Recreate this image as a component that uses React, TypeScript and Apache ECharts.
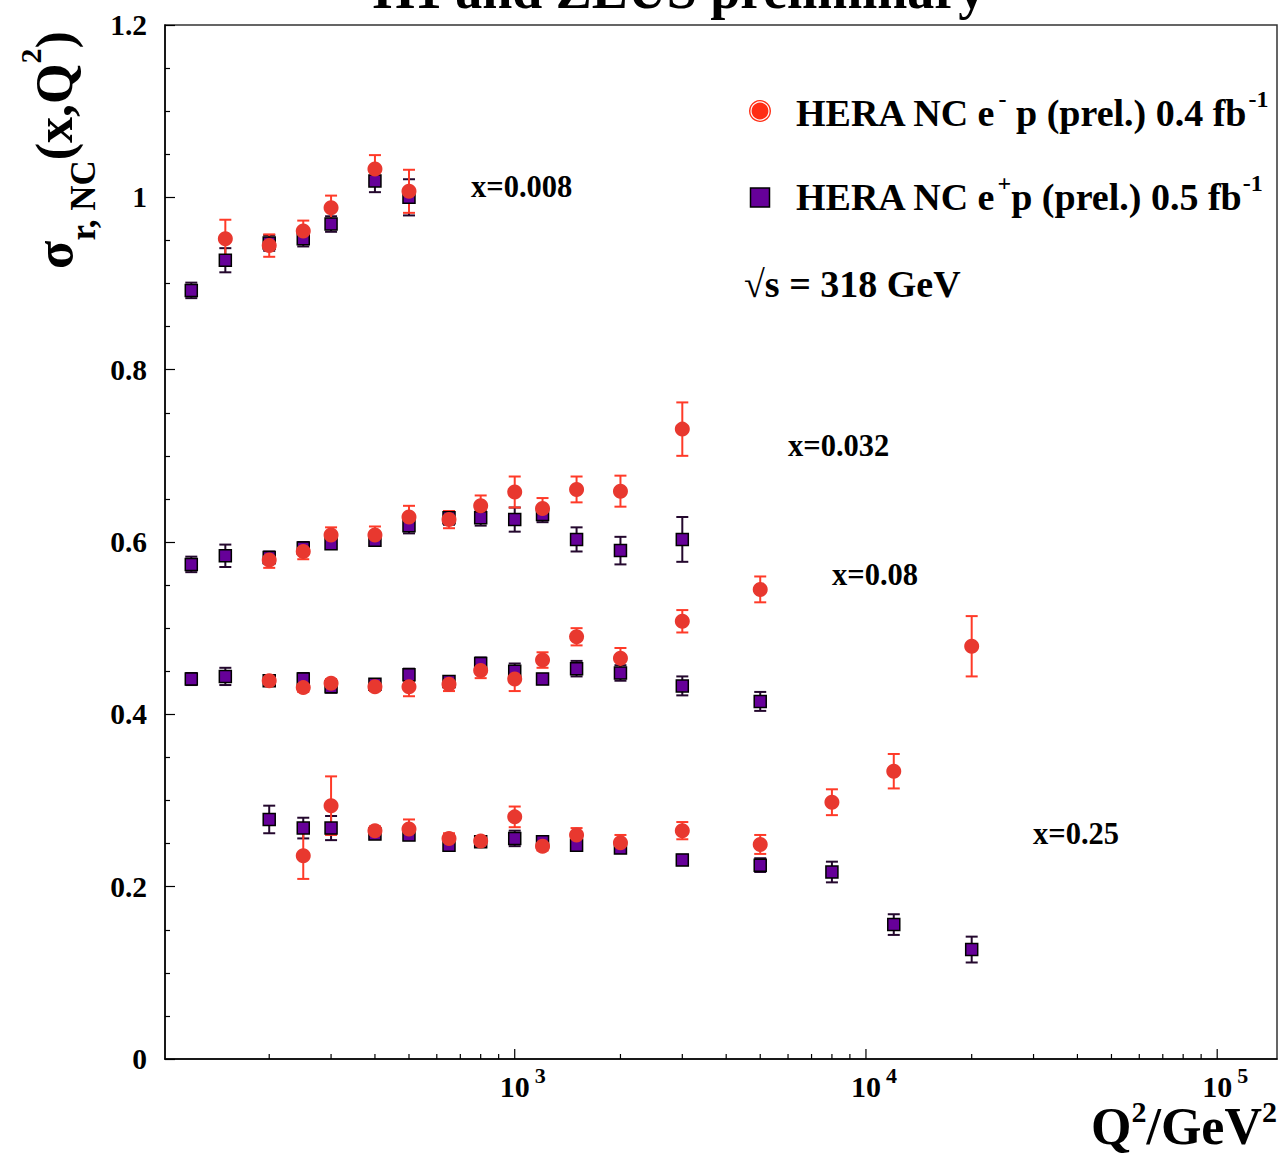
import React, { useEffect, useRef } from 'react';
import * as echarts from 'echarts';

const FONT = '"Liberation Serif", "Times New Roman", serif';

// Axis ranges / ticks
const Q2_MIN = 101;
const Q2_MAX = 148000;
const X_MAJOR_TICKS = [1000, 10000, 100000];
const X_MINOR_FACTORS = [2, 3, 4, 5, 6, 7, 8, 9];
const X_MINOR_DECADES = [100, 1000, 10000];
const Y_MIN = 0;
const Y_MAX = 1.2;
const Y_INTERVAL = 0.2;

// Data rows: [Q^2 (GeV^2), sigma_r,NC, error]
const eMinus_x0008 = [
  [150, 0.952, 0.022], [200, 0.944, 0.013], [250, 0.961, 0.012], [300, 0.988, 0.014],
  [400, 1.033, 0.016], [500, 1.007, 0.025],
];
const ePlus_x0008 = [
  [120, 0.892, 0.009], [150, 0.927, 0.014], [200, 0.947, 0.009], [250, 0.952, 0.009],
  [300, 0.969, 0.009], [400, 1.019, 0.013], [500, 1.0, 0.021],
];
const eMinus_x0032 = [
  [200, 0.579, 0.009], [250, 0.589, 0.009], [300, 0.608, 0.009], [400, 0.608, 0.01],
  [500, 0.629, 0.013], [650, 0.626, 0.01], [800, 0.642, 0.012], [1000, 0.658, 0.018],
  [1200, 0.639, 0.012], [1500, 0.661, 0.015], [2000, 0.659, 0.018], [3000, 0.731, 0.031],
];
const ePlus_x0032 = [
  [120, 0.574, 0.009], [150, 0.584, 0.013], [200, 0.582, 0.007], [250, 0.593, 0.007],
  [300, 0.598, 0.006], [400, 0.602, 0.006], [500, 0.619, 0.009], [650, 0.628, 0.008],
  [800, 0.628, 0.009], [1000, 0.626, 0.014], [1200, 0.632, 0.009], [1500, 0.603, 0.014],
  [2000, 0.59, 0.016], [3000, 0.603, 0.026],
];
const eMinus_x008 = [
  [200, 0.439, 0.005], [250, 0.431, 0.005], [300, 0.436, 0.005], [400, 0.432, 0.005],
  [500, 0.432, 0.011], [650, 0.435, 0.008], [800, 0.451, 0.009], [1000, 0.441, 0.014],
  [1200, 0.463, 0.009], [1500, 0.49, 0.01], [2000, 0.465, 0.012], [3000, 0.508, 0.013],
  [5000, 0.545, 0.015], [20000, 0.479, 0.035],
];
const ePlus_x008 = [
  [120, 0.441, 0.007], [150, 0.444, 0.01], [200, 0.439, 0.006], [250, 0.441, 0.007],
  [300, 0.432, 0.007], [400, 0.435, 0.006], [500, 0.446, 0.007], [650, 0.438, 0.006],
  [800, 0.459, 0.007], [1000, 0.45, 0.009], [1200, 0.441, 0.006], [1500, 0.453, 0.009],
  [2000, 0.448, 0.009], [3000, 0.433, 0.011], [5000, 0.415, 0.011],
];
const eMinus_x025 = [
  [250, 0.236, 0.027], [300, 0.294, 0.034], [400, 0.265, 0.005], [500, 0.267, 0.011],
  [650, 0.256, 0.006], [800, 0.253, 0.005], [1000, 0.281, 0.012], [1200, 0.247, 0.005],
  [1500, 0.26, 0.008], [2000, 0.251, 0.009], [3000, 0.265, 0.01], [5000, 0.249, 0.011],
  [8000, 0.298, 0.015], [12000, 0.334, 0.02],
];
const ePlus_x025 = [
  [200, 0.278, 0.016], [250, 0.268, 0.012], [300, 0.268, 0.014], [400, 0.261, 0.005],
  [500, 0.26, 0.006], [650, 0.248, 0.005], [800, 0.252, 0.005], [1000, 0.256, 0.009],
  [1200, 0.252, 0.005], [1500, 0.248, 0.006], [2000, 0.245, 0.006], [3000, 0.231, 0.006],
  [5000, 0.225, 0.008], [8000, 0.217, 0.012], [12000, 0.156, 0.012], [20000, 0.127, 0.015],
];

const BIN_LABELS = ['x=0.008', 'x=0.032', 'x=0.08', 'x=0.25'];
const LEGEND_MINUS = 'HERA NC e⁻ p (prel.) 0.4 fb⁻¹';
const LEGEND_PLUS = 'HERA NC e⁺p (prel.) 0.5 fb⁻¹';

const RED = '#e8382f';
const RED_ERR = '#ff3a28';
const PURPLE = '#660099';
const PURPLE_ERR = '#24082e';

function errRender(color: string) {
  return (params: any, api: any) => {
    const q = api.value(0);
    const v = api.value(1);
    const e = api.value(2);
    const top = api.coord([q, v + e]);
    const bot = api.coord([q, v - e]);
    const hw = 6;
    const style = { stroke: color, lineWidth: 2 };
    return {
      type: 'group',
      children: [
        { type: 'line', shape: { x1: top[0], y1: top[1], x2: bot[0], y2: bot[1] }, style },
        { type: 'line', shape: { x1: top[0] - hw, y1: top[1], x2: top[0] + hw, y2: top[1] }, style },
        { type: 'line', shape: { x1: bot[0] - hw, y1: bot[1], x2: bot[0] + hw, y2: bot[1] }, style },
      ],
    };
  };
}

export default function App() {
  const ref = useRef<HTMLDivElement>(null);

  useEffect(() => {
    const chart = echarts.init(ref.current!, null, { renderer: 'svg' });

    const eMinusAll = [...eMinus_x0008, ...eMinus_x0032, ...eMinus_x008, ...eMinus_x025];
    const ePlusAll = [...ePlus_x0008, ...ePlus_x0032, ...ePlus_x008, ...ePlus_x025];

    const xTicks: number[][] = [];
    X_MINOR_DECADES.forEach((d) => X_MINOR_FACTORS.forEach((f) => xTicks.push([d * f, 0])));
    X_MAJOR_TICKS.forEach((t) => xTicks.push([t, 1]));

    const mainText = { fontFamily: FONT, fontWeight: 'bold' as const, fill: '#000' };

    const option: any = {
      animation: false,
      backgroundColor: '#fff',
      grid: {
        left: 165, right: 4, top: 25, bottom: 99,
        show: true, borderColor: '#333', borderWidth: 1.5, backgroundColor: 'transparent',
      },
      xAxis: {
        type: 'log',
        logBase: 10,
        min: Q2_MIN,
        max: Q2_MAX,
        axisLine: { show: true, lineStyle: { color: '#000', width: 1.5 } },
        axisTick: { show: false },
        splitLine: { show: false },
        axisLabel: {
          margin: 5.5,
          formatter: (v: number) => {
            const e = Math.round(Math.log10(v));
            const p = Math.pow(10, e);
            if (Math.abs(v / p - 1) < 1e-6 && X_MAJOR_TICKS.indexOf(p) >= 0) {
              return `{pad| }{b|10}{sup|${e}}`;
            }
            return '';
          },
          rich: {
            pad: { width: 16, fontSize: 10, lineHeight: 10 },
            b: { fontFamily: FONT, fontWeight: 'bold', fontSize: 30, lineHeight: 30, color: '#000', padding: [14, 0, 0, 0] },
            sup: { fontFamily: FONT, fontWeight: 'bold', fontSize: 22, lineHeight: 22, color: '#000', verticalAlign: 'top', padding: [0, 0, 0, 5] },
          },
        },
      },
      yAxis: {
        type: 'value',
        min: Y_MIN,
        max: Y_MAX,
        interval: Y_INTERVAL,
        axisLine: { show: true, lineStyle: { color: '#000', width: 1.5 } },
        axisTick: { show: true, inside: true, length: 10, lineStyle: { color: '#000', width: 1.2 } },
        minorTick: { show: true, splitNumber: 4, length: 5, lineStyle: { color: '#000', width: 1.2 } },
        splitLine: { show: false },
        minorSplitLine: { show: false },
        axisLabel: {
          margin: 18,
          fontFamily: FONT,
          fontWeight: 'bold',
          fontSize: 29.5,
          color: '#000',
        },
      },
      series: [
        {
          type: 'custom',
          name: 'xticks',
          silent: true,
          data: xTicks,
          encode: { x: 0, y: 1 },
          renderItem: (params: any, api: any) => {
            const v = api.value(0);
            const major = api.value(1);
            const p = api.coord([v, 0]);
            const len = major ? 10 : 5;
            return {
              type: 'line',
              shape: { x1: p[0], y1: p[1], x2: p[0], y2: p[1] - len },
              style: { stroke: '#000', lineWidth: 1.2 },
            };
          },
        },
        {
          type: 'custom',
          name: 'ePlusErr',
          silent: true,
          data: ePlusAll,
          encode: { x: 0, y: 1 },
          renderItem: errRender(PURPLE_ERR),
        },
        {
          type: 'scatter',
          name: LEGEND_PLUS,
          data: ePlusAll.map((r) => [r[0], r[1]]),
          symbol: 'rect',
          symbolSize: 12,
          itemStyle: { color: PURPLE, borderColor: '#000', borderWidth: 1.5, opacity: 1 },
        },
        {
          type: 'custom',
          name: 'eMinusErr',
          silent: true,
          data: eMinusAll,
          encode: { x: 0, y: 1 },
          renderItem: errRender(RED_ERR),
        },
        {
          type: 'scatter',
          name: LEGEND_MINUS,
          data: eMinusAll.map((r) => [r[0], r[1]]),
          symbol: 'circle',
          symbolSize: 15,
          itemStyle: { color: RED, opacity: 1 },
        },
      ],
      graphic: [
        {
          type: 'text', silent: true, x: 679, y: -10,
          style: { ...mainText, text: 'H1 and ZEUS preliminary', fontSize: 54, align: 'center', verticalAlign: 'middle' },
        },
        // y-axis title (rotated)
        {
          type: 'text', silent: true, x: 54.5, y: 150, rotation: Math.PI / 2,
          style: {
            ...mainText,
            text: '{m|σ}{sub|r, NC}{m|(x,Q}{sup|2}{m|)}',
            fontSize: 52,
            align: 'center',
            verticalAlign: 'middle',
            rich: {
              m: { ...mainText, fontSize: 52 },
              sub: { ...mainText, fontSize: 35, padding: [57, 0, 0, 0] },
              sup: { ...mainText, fontSize: 30, padding: [0, 0, 49, 0] },
            },
          },
        },
        // x-axis title
        {
          type: 'text', silent: true, x: 1277, y: 1096,
          style: {
            ...mainText,
            text: '{m|Q}{sup|2}{m|/GeV}{sup|2}',
            fontSize: 52,
            align: 'right',
            verticalAlign: 'top',
            rich: {
              m: { ...mainText, fontSize: 52, lineHeight: 52, padding: [9.5, 0, 0, 0] },
              sup: { ...mainText, fontSize: 30, lineHeight: 22, verticalAlign: 'top' },
            },
          },
        },
        // legend
        { type: 'circle', silent: true, shape: { cx: 760, cy: 111, r: 11 }, style: { fill: '#ff2d14' } },
        { type: 'circle', silent: true, shape: { cx: 760, cy: 111, r: 9 }, style: { fill: 'none', stroke: '#fff', lineWidth: 1.2 } },
        {
          type: 'text', silent: true, x: 796, y: 112.5,
          style: {
            ...mainText,
            text: '{m|HERA NC e}{sup|-}{m| p (prel.) 0.4 fb}{sup|-1}',
            fontSize: 38, align: 'left', verticalAlign: 'middle',
            rich: {
              m: { ...mainText, fontSize: 38 },
              sup: { ...mainText, fontSize: 24, padding: [0, 0, 28, 2] },
            },
          },
        },
        { type: 'rect', silent: true, shape: { x: 750.5, y: 188, width: 19, height: 19 }, style: { fill: PURPLE, stroke: '#000', lineWidth: 1.5 } },
        {
          type: 'text', silent: true, x: 796, y: 197,
          style: {
            ...mainText,
            text: '{m|HERA NC e}{sup|+}{m|p (prel.) 0.5 fb}{sup|-1}',
            fontSize: 38, align: 'left', verticalAlign: 'middle',
            rich: {
              m: { ...mainText, fontSize: 38 },
              sup: { ...mainText, fontSize: 24, padding: [0, 0, 28, 1] },
            },
          },
        },
        {
          type: 'text', silent: true, x: 744, y: 284,
          style: { ...mainText, text: '√s = 318 GeV', fontSize: 38, align: 'left', verticalAlign: 'middle' },
        },
        // bin labels
        { type: 'text', silent: true, x: 471, y: 187, style: { ...mainText, text: BIN_LABELS[0], fontSize: 30.5, align: 'left', verticalAlign: 'middle' } },
        { type: 'text', silent: true, x: 788, y: 446, style: { ...mainText, text: BIN_LABELS[1], fontSize: 30.5, align: 'left', verticalAlign: 'middle' } },
        { type: 'text', silent: true, x: 832, y: 575, style: { ...mainText, text: BIN_LABELS[2], fontSize: 30.5, align: 'left', verticalAlign: 'middle' } },
        { type: 'text', silent: true, x: 1033, y: 834, style: { ...mainText, text: BIN_LABELS[3], fontSize: 30.5, align: 'left', verticalAlign: 'middle' } },
      ],
    };

    chart.setOption(option);
    return () => chart.dispose();
  }, []);

  return (
    <div
      ref={ref}
      style={{ position: 'fixed', left: 0, top: 0, width: 1281, height: 1158, background: '#fff' }}
    />
  );
}
